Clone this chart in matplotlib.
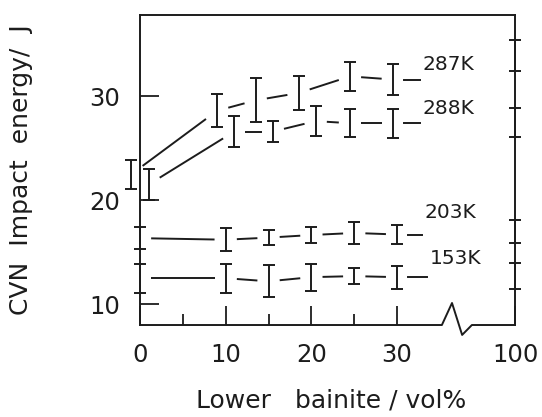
import numpy as np
import matplotlib
matplotlib.use("Agg")
import matplotlib.pyplot as plt
from matplotlib.ticker import FixedLocator, NullFormatter

# ---- data ----
x_287 = [-1, 9, 13.5, 18.5, 24.5, 29.5, 100]
y_287 = [22.5, 28.6, 29.6, 30.3, 31.9, 31.6, 33.9]
e_287 = [1.4, 1.6, 2.1, 1.6, 1.4, 1.5, 1.45]

x_288 = [1, 11, 15.5, 20.5, 24.5, 29.5, 100]
y_288 = [21.5, 26.6, 26.6, 27.6, 27.4, 27.4, 27.5]
e_288 = [1.45, 1.45, 1.0, 1.45, 1.35, 1.4, 1.4]

x_203 = [0, 10, 15, 20, 25, 30, 100]
y_203 = [16.35, 16.2, 16.4, 16.65, 16.85, 16.7, 17.0]
e_203 = [1.05, 1.1, 0.75, 0.75, 1.05, 0.9, 1.1]

x_153 = [0, 10, 15, 20, 25, 30, 100]
y_153 = [12.5, 12.5, 12.2, 12.6, 12.7, 12.6, 12.75]
e_153 = [1.4, 1.4, 1.55, 1.3, 0.8, 1.1, 1.25]

series_labels = ["287K", "288K", "203K", "153K"]
x_ticks = [0, 10, 20, 30, 100]
x_minor = [5, 15, 25]
y_ticks = [10, 20, 30]

INK = "#1c1c1c"
plt.rcParams["font.family"] = ["DejaVu Sans"]

fig = plt.figure(figsize=(5.42, 4.17), dpi=100)
ax = fig.add_axes([0.2583, 0.2206, 0.6919, 0.7434])

BREAK = 36.0
SQ = (43.76 - 36.0) / 64.0
def fwd(x):
    x = np.asarray(x, dtype=float)
    return np.where(x <= BREAK, x, BREAK + (x - BREAK) * SQ)
def inv(p):
    p = np.asarray(p, dtype=float)
    return np.where(p <= BREAK, p, BREAK + (p - BREAK) / SQ)
ax.set_xscale("function", functions=(fwd, inv))
ax.set_xlim(0, 100)
ax.set_ylim(8.0, 37.8)

series = [(x_287, y_287, e_287), (x_288, y_288, e_288),
          (x_203, y_203, e_203), (x_153, y_153, e_153)]
label_pos = [(33.0, 33.0), (33.0, 28.85), (33.2, 18.85), (33.8, 14.4)]

g = 1.3
for (xs, ys, es), lab, (lx, ly) in zip(series, series_labels, label_pos):
    ax.errorbar(xs, ys, yerr=es, fmt="none", ecolor=INK, elinewidth=1.4,
                capsize=4.6, capthick=1.4, clip_on=False, zorder=3)
    # connecting segments (with gaps at each bar), excluding the 100 point
    xm = [x for x in xs if x <= 35]
    ym = ys[:len(xm)]
    for i in range(len(xm) - 1):
        x0, x1 = xm[i], xm[i + 1]
        y0, y1 = ym[i], ym[i + 1]
        t0 = g / (x1 - x0)
        t1 = 1 - t0
        ax.plot([x0 + t0 * (x1 - x0), x0 + t1 * (x1 - x0)],
                [y0 + t0 * (y1 - y0), y0 + t1 * (y1 - y0)],
                color=INK, lw=1.4, solid_capstyle="butt", zorder=2)
    # trailing segment to the label
    ax.plot([xm[-1] + g, lx - 0.3], [ym[-1], ym[-1]], color=INK, lw=1.4, zorder=2)
    ax.text(lx, ly, lab, fontsize=14.5, color=INK, va="center", ha="left")

# spines
for s in ["top", "right", "left"]:
    ax.spines[s].set_color(INK)
    ax.spines[s].set_linewidth(1.4)
ax.spines["bottom"].set_visible(False)
bx = [0, 0.805, 0.832, 0.859, 0.885, 1.0]
by = [0, 0, 0.071, -0.032, 0, 0]
ax.plot(bx, by, transform=ax.transAxes, color=INK, lw=1.4, clip_on=False, zorder=4)

ax.xaxis.set_major_locator(FixedLocator(x_ticks))
ax.xaxis.set_minor_locator(FixedLocator(x_minor))
ax.xaxis.set_minor_formatter(NullFormatter())
ax.set_xticklabels([str(v) for v in x_ticks])
ax.yaxis.set_major_locator(FixedLocator(y_ticks))
ax.yaxis.set_minor_locator(FixedLocator([]))

ax.tick_params(axis="x", which="major", direction="in", length=14, width=1.3,
               color=INK, labelsize=17.5, pad=13, labelcolor=INK)
ax.tick_params(axis="x", which="minor", direction="in", length=8, width=1.3, color=INK)
ax.tick_params(axis="y", which="major", direction="in", length=14, width=1.3,
               color=INK, labelsize=17.5, pad=14, labelcolor=INK)

ax.set_xlabel("Lower   bainite / vol%", fontsize=18, color=INK)
ax.xaxis.set_label_coords(0.509, -0.205)
ax.set_ylabel("CVN  Impact  energy/  J", fontsize=18, color=INK)
ax.yaxis.set_label_coords(-0.285, 0.5)

fig.savefig("out.png", dpi=100)
